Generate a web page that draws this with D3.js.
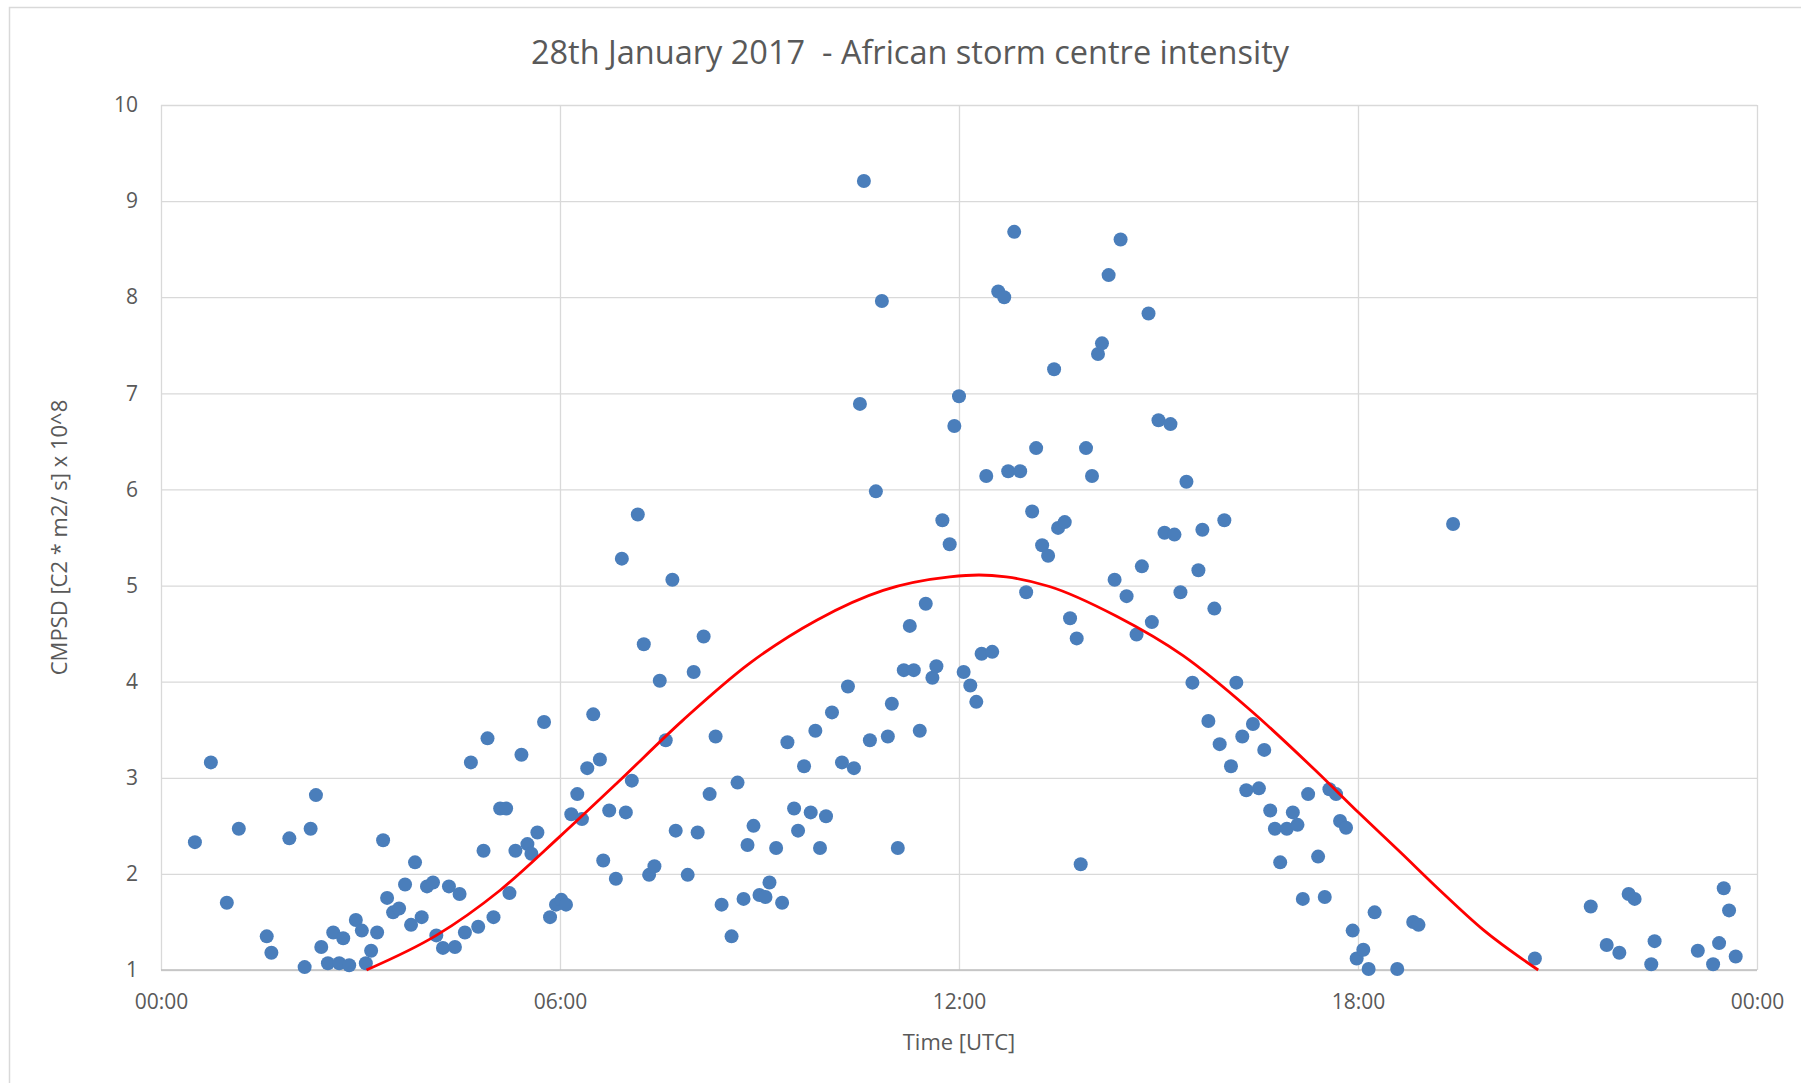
<!DOCTYPE html>
<html>
<head>
<meta charset="utf-8">
<title>28th January 2017 - African storm centre intensity</title>
<script src="https://cdn.jsdelivr.net/npm/d3@7/dist/d3.min.js"></script>
<style>
  html, body { margin: 0; padding: 0; background: #ffffff; }
  svg { display: block; font-family: "Open Sans", "Noto Sans", sans-serif; }
</style>
</head>
<body>
<svg id="chart" width="1801" height="1083"></svg>
<script>
// Observation times (hours UTC) of the storm centre
const obsHours = [
  0.51, 0.75, 0.99, 1.17, 1.59, 1.66, 1.93, 2.16, 2.25, 2.33,
  2.41, 2.51, 2.59, 2.68, 2.74, 2.83, 2.93, 3.02, 3.08, 3.16,
  3.25, 3.34, 3.40, 3.49, 3.58, 3.67, 3.76, 3.82, 3.92, 4.00,
  4.09, 4.14, 4.24, 4.33, 4.42, 4.49, 4.57, 4.66, 4.77, 4.85,
  4.91, 5.00, 5.10, 5.19, 5.24, 5.33, 5.42, 5.51, 5.57, 5.66,
  5.76, 5.85, 5.94, 6.02, 6.09, 6.17, 6.26, 6.33, 6.41, 6.50,
  6.60, 6.65, 6.74, 6.84, 6.93, 6.99, 7.08, 7.17, 7.26, 7.34,
  7.42, 7.50, 7.59, 7.69, 7.74, 7.92, 8.01, 8.07, 8.16, 8.25,
  8.34, 8.43, 8.58, 8.67, 8.76, 8.82, 8.91, 9.00, 9.09, 9.15,
  9.25, 9.34, 9.42, 9.52, 9.58, 9.67, 9.77, 9.84, 9.91, 10.00,
  10.09, 10.24, 10.33, 10.42, 10.51, 10.57, 10.66, 10.75, 10.84, 10.93,
  10.99, 11.08, 11.17, 11.26, 11.32, 11.41, 11.50, 11.60, 11.66, 11.75,
  11.86, 11.93, 12.00, 12.07, 12.17, 12.26, 12.34, 12.41, 12.50, 12.59,
  12.68, 12.74, 12.83, 12.92, 13.01, 13.10, 13.16, 13.25, 13.34, 13.43,
  13.49, 13.59, 13.67, 13.77, 13.83, 13.91, 14.00, 14.09, 14.15, 14.25,
  14.34, 14.43, 14.52, 14.67, 14.75, 14.85, 14.90, 15.00, 15.09, 15.18,
  15.24, 15.33, 15.42, 15.51, 15.60, 15.66, 15.75, 15.84, 15.92, 15.99,
  16.09, 16.17, 16.26, 16.32, 16.42, 16.51, 16.59, 16.68, 16.75, 16.83,
  16.93, 17.02, 17.09, 17.17, 17.25, 17.40, 17.50, 17.57, 17.67, 17.73,
  17.82, 17.92, 17.98, 18.08, 18.16, 18.25, 18.59, 18.83, 18.91, 19.43,
  20.66, 21.50, 21.74, 21.93, 22.07, 22.16, 22.41, 22.46, 23.11, 23.34,
  23.43, 23.50, 23.58, 23.68
];

// CMPSD intensity (x 10^8) at each observation time
const obsIntensity = [
  2.33, 3.16, 1.70, 2.47, 1.35, 1.18, 2.37, 1.03, 2.47, 2.82,
  1.24, 1.07, 1.39, 1.07, 1.33, 1.05, 1.52, 1.41, 1.07, 1.20,
  1.39, 2.35, 1.75, 1.60, 1.64, 1.89, 1.47, 2.12, 1.55, 1.87,
  1.91, 1.36, 1.23, 1.87, 1.24, 1.79, 1.39, 3.16, 1.45, 2.24,
  3.41, 1.55, 2.68, 2.68, 1.80, 2.24, 3.24, 2.31, 2.21, 2.43,
  3.58, 1.55, 1.68, 1.73, 1.68, 2.62, 2.83, 2.57, 3.10, 3.66,
  3.19, 2.14, 2.66, 1.95, 5.28, 2.64, 2.97, 5.74, 4.39, 1.99,
  2.08, 4.01, 3.39, 5.06, 2.45, 1.99, 4.10, 2.43, 4.47, 2.83,
  3.43, 1.68, 1.35, 2.95, 1.74, 2.30, 2.50, 1.78, 1.76, 1.91,
  2.27, 1.70, 3.37, 2.68, 2.45, 3.12, 2.64, 3.49, 2.27, 2.60,
  3.68, 3.16, 3.95, 3.10, 6.89, 9.21, 3.39, 5.98, 7.96, 3.43,
  3.77, 2.27, 4.12, 4.58, 4.12, 3.49, 4.81, 4.04, 4.16, 5.68,
  5.43, 6.66, 6.97, 4.10, 3.96, 3.79, 4.29, 6.14, 4.31, 8.06,
  8.00, 6.19, 8.68, 6.19, 4.93, 5.77, 6.43, 5.42, 5.31, 7.25,
  5.60, 5.66, 4.66, 4.45, 2.10, 6.43, 6.14, 7.41, 7.52, 8.23,
  5.06, 8.60, 4.89, 4.49, 5.20, 7.83, 4.62, 6.72, 5.55, 6.68,
  5.53, 4.93, 6.08, 3.99, 5.16, 5.58, 3.59, 4.76, 3.35, 5.68,
  3.12, 3.99, 3.43, 2.87, 3.56, 2.89, 3.29, 2.66, 2.47, 2.12,
  2.47, 2.64, 2.51, 1.74, 2.83, 2.18, 1.76, 2.88, 2.83, 2.55,
  2.48, 1.41, 1.12, 1.21, 1.01, 1.60, 1.01, 1.50, 1.47, 5.64,
  1.12, 1.66, 1.26, 1.18, 1.79, 1.74, 1.06, 1.30, 1.20, 1.06,
  1.28, 1.85, 1.62, 1.14
];

// Diurnal fit of the intensity (hours UTC, CMPSD x 10^8)
const fitHours = [
  3.09, 4.14, 5.10, 6.00, 6.85, 7.85, 8.85, 9.86, 10.86, 11.86,
  12.30, 12.71, 13.36, 14.37, 15.37, 16.37, 17.37, 18.02, 18.63,
  19.23, 19.88, 20.71
];
const fitIntensity = [
  1.00, 1.36, 1.83, 2.39, 2.94, 3.60, 4.19, 4.64, 4.95, 5.09,
  5.11, 5.09, 4.99, 4.68, 4.27, 3.71, 3.07, 2.63, 2.23,
  1.83, 1.42, 1.00
];

// Axis ticks
const xTickHours = [0, 6, 12, 18, 24];
const xTickLabels = ["00:00", "06:00", "12:00", "18:00", "00:00"];
const yTickValues = [1, 2, 3, 4, 5, 6, 7, 8, 9, 10];

const chartTitle = "28th January 2017  - African storm centre intensity";
const xAxisTitle = "Time [UTC]";
const yAxisTitle = "CMPSD [C2 * m2/ s] x 10^8";

// ---- layout ----
const svg = d3.select("#chart");
const plot = { left: 161, right: 1757, top: 105, bottom: 970 };
const textColor = "#595959";
const gridColor = "#d9d9d9";

const x = d3.scaleLinear().domain([0, 24]).range([plot.left, plot.right]);
const y = d3.scaleLinear().domain([1, 10]).range([plot.bottom, plot.top]);

// chart-area frame
svg.append("rect")
  .attr("x", 9.5).attr("y", 7.5)
  .attr("width", 1810).attr("height", 1090)
  .attr("fill", "#ffffff")
  .attr("stroke", "#d9d9d9").attr("stroke-width", 1.5);

// horizontal gridlines
svg.append("g")
  .attr("transform", `translate(${plot.left},0)`)
  .call(d3.axisLeft(y).tickValues(yTickValues)
    .tickSize(-(plot.right - plot.left)).tickFormat(""))
  .call(g => g.select(".domain").remove())
  .call(g => g.selectAll("line").attr("stroke", gridColor).attr("stroke-width", 1.3));

// vertical gridlines
svg.append("g")
  .attr("transform", `translate(0,${plot.bottom})`)
  .call(d3.axisBottom(x).tickValues(xTickHours)
    .tickSize(-(plot.bottom - plot.top)).tickFormat(""))
  .call(g => g.select(".domain").remove())
  .call(g => g.selectAll("line").attr("stroke", gridColor).attr("stroke-width", 1.3));

// bottom axis line
svg.append("line")
  .attr("x1", plot.left).attr("x2", plot.right)
  .attr("y1", plot.bottom).attr("y2", plot.bottom)
  .attr("stroke", "#bfbfbf").attr("stroke-width", 1.5);

// y tick labels
svg.append("g")
  .attr("transform", `translate(${plot.left},0)`)
  .call(d3.axisLeft(y).tickValues(yTickValues).tickSize(0).tickPadding(23)
    .tickFormat(d3.format("d")))
  .call(g => g.select(".domain").remove())
  .call(g => g.selectAll("text")
    .attr("fill", textColor)
    .style("font-family", "'Open Sans', sans-serif")
    .style("font-size", "21px"));

// x tick labels
svg.append("g")
  .attr("transform", `translate(0,${plot.bottom})`)
  .call(d3.axisBottom(x).tickValues(xTickHours).tickSize(0).tickPadding(24)
    .tickFormat((d, i) => xTickLabels[i]))
  .call(g => g.select(".domain").remove())
  .call(g => g.selectAll("text")
    .attr("fill", textColor)
    .style("font-family", "'Open Sans', sans-serif")
    .style("font-size", "21px"));

// observations
const obs = obsHours.map((h, i) => ({ h, v: obsIntensity[i] }));
svg.append("g")
  .selectAll("circle")
  .data(obs)
  .join("circle")
  .attr("cx", d => x(d.h))
  .attr("cy", d => y(d.v))
  .attr("r", 7)
  .attr("fill", "#4a7ebb");

// fitted diurnal curve
const fit = fitHours.map((h, i) => ({ h, v: fitIntensity[i] }));
svg.append("path")
  .datum(fit)
  .attr("fill", "none")
  .attr("stroke", "#ff0000")
  .attr("stroke-width", 2.8)
  .attr("d", d3.line().x(d => x(d.h)).y(d => y(d.v)).curve(d3.curveMonotoneX));

// titles
svg.append("text")
  .attr("x", 910).attr("y", 64)
  .attr("text-anchor", "middle")
  .attr("fill", textColor)
  .style("font-size", "32.5px")
  .style("white-space", "pre")
  .text(chartTitle);

svg.append("text")
  .attr("x", (plot.left + plot.right) / 2).attr("y", 1050)
  .attr("text-anchor", "middle")
  .attr("fill", textColor)
  .style("font-size", "22px")
  .text(xAxisTitle);

svg.append("text")
  .attr("transform", `translate(67,${(plot.top + plot.bottom) / 2}) rotate(-90)`)
  .attr("text-anchor", "middle")
  .attr("fill", textColor)
  .style("font-size", "22px")
  .text(yAxisTitle);
</script>
</body>
</html>
